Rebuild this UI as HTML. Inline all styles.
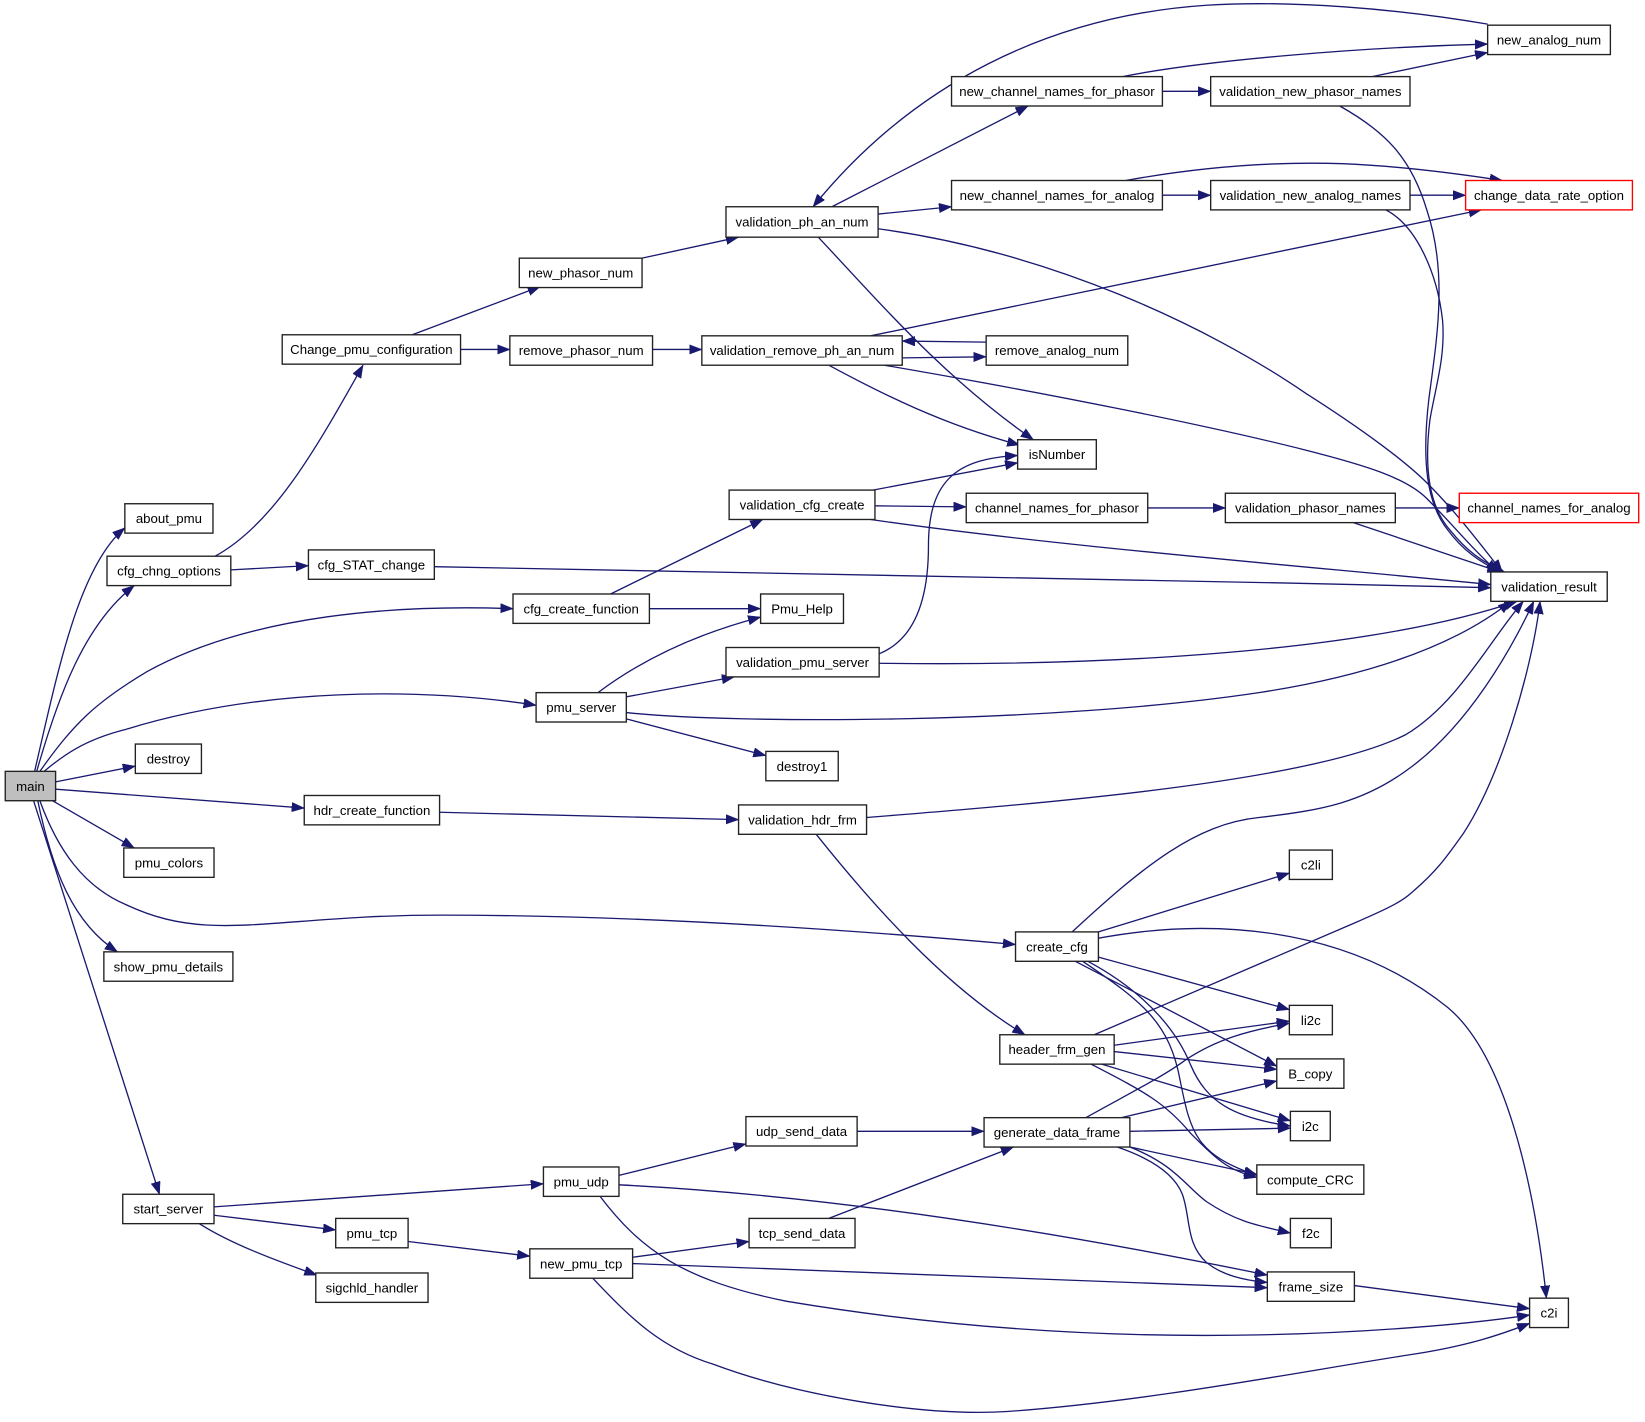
<!DOCTYPE html>
<html><head><meta charset="utf-8"><style>
html,body{margin:0;padding:0;background:#fff;}
svg{display:block;}
text{font-family:"Liberation Sans",Arial,sans-serif;font-size:12.6px;fill:#000;text-anchor:middle;}
.n{fill:#fff;stroke:#222;stroke-width:1.3;}
.r{fill:#fff;stroke:#ff0000;stroke-width:1.3;}
.e{fill:none;stroke:#191970;stroke-width:1.25;marker-end:url(#a);}
</style></head><body>
<svg width="1645" height="1422" viewBox="0 0 1568 1355" preserveAspectRatio="none" xmlns="http://www.w3.org/2000/svg">
<defs><marker id="a" markerUnits="userSpaceOnUse" markerWidth="13" markerHeight="10" refX="12" refY="4.5" orient="auto"><path d="M0,0 L12,4.5 L0,9 z" fill="#191970" stroke="#191970" stroke-width="0.5"/></marker></defs>
<rect width="1568" height="1355" fill="#fff"/>
<!-- edges -->
<path class="e" d="M33,735 C55,640 75,540 119,503"/>
<path class="e" d="M35,735 C55,665 80,595 128,558"/>
<path class="e" d="M38,735 C70,690 90,670 140,640 C240,585 380,576 489,580"/>
<path class="e" d="M42,735 C60,720 80,705 120,695 C250,655 400,655 511,672"/>
<path class="e" d="M53,745 L129,730"/>
<path class="e" d="M53,752 L290,770"/>
<path class="e" d="M50,763 L128,808"/>
<path class="e" d="M38,763 C55,810 80,845 120,862 C200,900 260,872 420,872 C600,872 800,885 968,900"/>
<path class="e" d="M36,763 C50,830 70,880 112,907"/>
<path class="e" d="M32,763 L152,1138"/>
<path class="e" d="M205,530 C260,500 300,430 346,348"/>
<path class="e" d="M220,543 L294,539"/>
<path class="e" d="M393,319 L515,273"/>
<path class="e" d="M439,333 L486,333"/>
<path class="e" d="M612,246 L704,226"/>
<path class="e" d="M622,333 L669,333"/>
<path class="e" d="M793,197 L980,101"/>
<path class="e" d="M837,204 L907,197"/>
<path class="e" d="M837,218 C1000,240 1150,310 1245,375 C1300,410 1340,440 1360,460 C1390,490 1412,520 1432,545"/>
<path class="e" d="M780,226 C840,290 900,360 985,419"/>
<path class="e" d="M1418,23 C1330,8 1230,0 1150,5 C1000,15 870,80 775,197"/>
<path class="e" d="M1108,87 L1154,87"/>
<path class="e" d="M1070,73 C1150,57 1300,45 1418,42"/>
<path class="e" d="M1108,186 L1154,186"/>
<path class="e" d="M1073,172 C1150,158 1220,154 1280,156 C1330,158 1380,164 1432,172"/>
<path class="e" d="M1308,73 L1418,50"/>
<path class="e" d="M1277,101 C1320,125 1345,150 1360,200 C1380,260 1370,320 1362,380 C1355,440 1360,480 1380,505 C1395,525 1410,535 1430,545"/>
<path class="e" d="M1344,186 L1397,186"/>
<path class="e" d="M1321,200 C1350,215 1370,260 1375,305 C1378,340 1368,370 1363,400 C1358,440 1360,480 1382,505 C1398,525 1412,535 1434,545"/>
<path class="e" d="M830,320 L1412,200"/>
<path class="e" d="M860,341 L940,340"/>
<path class="e" d="M940,326 L860,325"/>
<path class="e" d="M790,348 C840,375 900,405 972,424"/>
<path class="e" d="M843,348 C1000,375 1150,405 1245,429 C1300,443 1340,455 1360,475 C1385,500 1405,525 1428,545"/>
<path class="e" d="M832,467 L970,441"/>
<path class="e" d="M834,482 L921,483"/>
<path class="e" d="M830,495 C1000,520 1250,540 1421,557"/>
<path class="e" d="M1094,484 L1168,484"/>
<path class="e" d="M1330,484 L1391,484"/>
<path class="e" d="M1290,498 L1430,545"/>
<path class="e" d="M414,540 C800,548 1100,552 1421,560"/>
<path class="e" d="M582,566 L727,495"/>
<path class="e" d="M619,580 L725,580"/>
<path class="e" d="M570,660 C610,630 660,605 725,588"/>
<path class="e" d="M597,664 L700,645"/>
<path class="e" d="M597,679 C700,690 1000,690 1200,660 C1330,640 1400,605 1440,573"/>
<path class="e" d="M597,685 L730,720"/>
<path class="e" d="M838,623 C870,610 885,575 885,520 C885,455 915,437 970,434"/>
<path class="e" d="M838,632 C1050,635 1300,622 1446,573"/>
<path class="e" d="M826,779 C1000,765 1250,745 1340,700 C1390,670 1420,610 1452,573"/>
<path class="e" d="M778,795 C830,860 900,940 977,986"/>
<path class="e" d="M419,774 L704,781"/>
<path class="e" d="M1022,888 C1090,825 1140,785 1200,779 C1260,772 1300,765 1345,731 C1400,690 1440,620 1462,573"/>
<path class="e" d="M1047,888 L1229,832"/>
<path class="e" d="M1047,894 C1150,875 1280,880 1380,960 C1440,1010 1465,1150 1474,1237"/>
<path class="e" d="M1047,912 L1229,962"/>
<path class="e" d="M1025,916 L1217,1016"/>
<path class="e" d="M1037,916 C1100,950 1125,990 1135,1015 C1150,1050 1175,1065 1230,1073"/>
<path class="e" d="M1032,916 C1090,955 1115,975 1125,1030 C1135,1080 1140,1100 1198,1120"/>
<path class="e" d="M1043,986 L1290,880 C1320,867 1335,860 1345,851 C1370,830 1380,815 1395,794 C1430,740 1460,640 1468,573"/>
<path class="e" d="M1062,996 L1229,973"/>
<path class="e" d="M1062,1002 L1217,1019"/>
<path class="e" d="M1050,1014 L1230,1068"/>
<path class="e" d="M1040,1014 C1090,1040 1110,1050 1135,1080 C1160,1105 1170,1115 1198,1122"/>
<path class="e" d="M1035,1065 C1080,1040 1110,1025 1130,1010 C1160,990 1190,982 1229,975"/>
<path class="e" d="M1069,1065 L1217,1030"/>
<path class="e" d="M1077,1078 L1230,1075"/>
<path class="e" d="M1077,1093 L1198,1119"/>
<path class="e" d="M1077,1093 C1120,1110 1130,1130 1150,1145 C1180,1165 1200,1168 1230,1175"/>
<path class="e" d="M1065,1093 C1100,1105 1120,1120 1127,1138 C1135,1160 1130,1185 1150,1203 C1165,1215 1185,1220 1208,1222"/>
<path class="e" d="M790,1161 L966,1093"/>
<path class="e" d="M817,1078 L938,1078"/>
<path class="e" d="M1291,1225 L1458,1247"/>
<path class="e" d="M204,1150 L518,1128"/>
<path class="e" d="M204,1158 L320,1172"/>
<path class="e" d="M190,1166 C220,1185 260,1200 302,1215"/>
<path class="e" d="M389,1183 L505,1197"/>
<path class="e" d="M590,1120 L711,1090"/>
<path class="e" d="M590,1129 C750,1137 950,1162 1208,1215"/>
<path class="e" d="M572,1140 C610,1190 650,1220 750,1240 C900,1265 1050,1275 1200,1272 C1300,1270 1400,1262 1458,1253"/>
<path class="e" d="M603,1198 L714,1183"/>
<path class="e" d="M603,1204 L1208,1227"/>
<path class="e" d="M565,1218 C600,1255 630,1285 680,1300 C760,1330 880,1350 960,1345 C1100,1335 1250,1305 1350,1290 C1400,1282 1430,1272 1458,1261"/>
<!-- nodes -->
<rect x="5" y="735" width="48" height="28" fill="#bfbfbf" stroke="#222" stroke-width="1.3"/><text x="29" y="753.5">main</text>
<rect class="n" x="119" y="480" width="84" height="28"/><text x="161" y="498.5">about_pmu</text>
<rect class="n" x="102" y="530" width="118" height="28"/><text x="161" y="548.5">cfg_chng_options</text>
<rect class="n" x="129" y="709" width="63" height="28"/><text x="160.5" y="727.5">destroy</text>
<rect class="n" x="118" y="808" width="86" height="28"/><text x="161" y="826.5">pmu_colors</text>
<rect class="n" x="99" y="907" width="123" height="28"/><text x="160.5" y="925.5">show_pmu_details</text>
<rect class="n" x="117" y="1138" width="87" height="28"/><text x="160.5" y="1156.5">start_server</text>
<rect class="n" x="269" y="319" width="170" height="28"/><text x="354" y="337.5">Change_pmu_configuration</text>
<rect class="n" x="294" y="524" width="120" height="28"/><text x="354" y="542.5">cfg_STAT_change</text>
<rect class="n" x="489" y="566" width="130" height="28"/><text x="554" y="584.5">cfg_create_function</text>
<rect class="n" x="511" y="660" width="86" height="28"/><text x="554" y="678.5">pmu_server</text>
<rect class="n" x="290" y="758" width="129" height="28"/><text x="354.5" y="776.5">hdr_create_function</text>
<rect class="n" x="320" y="1161" width="69" height="28"/><text x="354.5" y="1179.5">pmu_tcp</text>
<rect class="n" x="301" y="1213" width="107" height="28"/><text x="354.5" y="1231.5">sigchld_handler</text>
<rect class="n" x="518" y="1112" width="72" height="28"/><text x="554" y="1130.5">pmu_udp</text>
<rect class="n" x="505" y="1190" width="98" height="28"/><text x="554" y="1208.5">new_pmu_tcp</text>
<rect class="n" x="495" y="246" width="117" height="28"/><text x="553.5" y="264.5">new_phasor_num</text>
<rect class="n" x="486" y="320" width="136" height="28"/><text x="554" y="338.5">remove_phasor_num</text>
<rect class="n" x="692" y="197" width="145" height="29"/><text x="764.5" y="216">validation_ph_an_num</text>
<rect class="n" x="669" y="320" width="191" height="28"/><text x="764.5" y="338.5">validation_remove_ph_an_num</text>
<rect class="n" x="695" y="467" width="139" height="28"/><text x="764.5" y="485.5">validation_cfg_create</text>
<rect class="n" x="725" y="566" width="79" height="28"/><text x="764.5" y="584.5">Pmu_Help</text>
<rect class="n" x="692" y="617" width="146" height="28"/><text x="765" y="635.5">validation_pmu_server</text>
<rect class="n" x="730" y="716" width="69" height="28"/><text x="764.5" y="734.5">destroy1</text>
<rect class="n" x="704" y="767" width="122" height="28"/><text x="765" y="785.5">validation_hdr_frm</text>
<rect class="n" x="711" y="1064" width="106" height="28"/><text x="764" y="1082.5">udp_send_data</text>
<rect class="n" x="714" y="1161" width="101" height="28"/><text x="764.5" y="1179.5">tcp_send_data</text>
<rect class="n" x="907" y="73" width="201" height="28"/><text x="1007.5" y="91.5">new_channel_names_for_phasor</text>
<rect class="n" x="907" y="172" width="201" height="28"/><text x="1007.5" y="190.5">new_channel_names_for_analog</text>
<rect class="n" x="940" y="320" width="135" height="28"/><text x="1007.5" y="338.5">remove_analog_num</text>
<rect class="n" x="970" y="419" width="75" height="28"/><text x="1007.5" y="437.5">isNumber</text>
<rect class="n" x="921" y="470" width="173" height="28"/><text x="1007.5" y="488.5">channel_names_for_phasor</text>
<rect class="n" x="968" y="888" width="79" height="28"/><text x="1007.5" y="906.5">create_cfg</text>
<rect class="n" x="953" y="986" width="109" height="28"/><text x="1007.5" y="1004.5">header_frm_gen</text>
<rect class="n" x="938" y="1065" width="139" height="28"/><text x="1007.5" y="1083.5">generate_data_frame</text>
<rect class="n" x="1154" y="73" width="190" height="28"/><text x="1249" y="91.5">validation_new_phasor_names</text>
<rect class="n" x="1154" y="172" width="190" height="28"/><text x="1249" y="190.5">validation_new_analog_names</text>
<rect class="n" x="1168" y="470" width="162" height="28"/><text x="1249" y="488.5">validation_phasor_names</text>
<rect class="n" x="1418" y="24" width="117" height="28"/><text x="1476.5" y="42.5">new_analog_num</text>
<rect class="r" x="1397" y="172" width="159" height="28"/><text x="1476.5" y="190.5">change_data_rate_option</text>
<rect class="r" x="1391" y="470" width="171" height="28"/><text x="1476.5" y="488.5">channel_names_for_analog</text>
<rect class="n" x="1421" y="545" width="111" height="28"/><text x="1476.5" y="563.5">validation_result</text>
<rect class="n" x="1229" y="810" width="41" height="28"/><text x="1249.5" y="828.5">c2li</text>
<rect class="n" x="1229" y="958" width="41" height="28"/><text x="1249.5" y="976.5">li2c</text>
<rect class="n" x="1217" y="1009" width="64" height="28"/><text x="1249" y="1027.5">B_copy</text>
<rect class="n" x="1230" y="1059" width="38" height="28"/><text x="1249" y="1077.5">i2c</text>
<rect class="n" x="1198" y="1110" width="102" height="28"/><text x="1249" y="1128.5">compute_CRC</text>
<rect class="n" x="1230" y="1161" width="39" height="28"/><text x="1249.5" y="1179.5">f2c</text>
<rect class="n" x="1208" y="1212" width="83" height="28"/><text x="1249.5" y="1230.5">frame_size</text>
<rect class="n" x="1458" y="1237" width="37" height="28"/><text x="1476.5" y="1255.5">c2i</text>
</svg>
</body></html>
